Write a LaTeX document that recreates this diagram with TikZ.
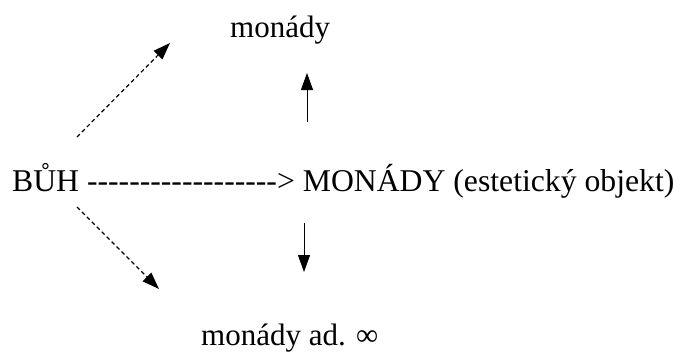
\documentclass[tikz,border=0pt]{standalone}
\usepackage{fontspec}
\setmainfont{Liberation Serif}
\usetikzlibrary{arrows.meta}
\begin{document}
\begin{tikzpicture}[x=1pt,y=-1pt,
  lbl/.style={inner sep=0pt,anchor=base west,font=\fontsize{31}{36}\selectfont},
  solidarr/.style={line width=1pt,-{Triangle[length=17pt,width=12pt]}},
  dasharr/.style={line width=1.2pt,dash pattern=on 4pt off 3pt,-{Triangle[length=17pt,width=12pt]}}]
\useasboundingbox (0,0) rectangle (682,351);
\node[lbl,font=\fontsize{31.7}{36}\selectfont] (main) at (12,191) {BŮH -{}-{}-{}-{}-{}-{}-{}-{}-{}-{}-{}-{}-{}-{}-{}-{}-{}-{}> MONÁDY (estetický objekt)};
\node[lbl] (top) at (230,37) {monády};
\node[lbl] (bot) at (201,345) {monády ad. ∞};
\coordinate (ua) at (77,137);
\coordinate (ub) at (170,43);
\coordinate (da) at (77,207);
\coordinate (db) at (159,289);
\coordinate (va) at (307,122);
\coordinate (vb) at (307,73);
\coordinate (wa) at (304,223);
\coordinate (wb) at (304,272);
\draw[dasharr] (ua) -- (ub);
\draw[dasharr] (da) -- (db);
\draw[solidarr] (va) -- (vb);
\draw[solidarr] (wa) -- (wb);
\end{tikzpicture}
\end{document}
